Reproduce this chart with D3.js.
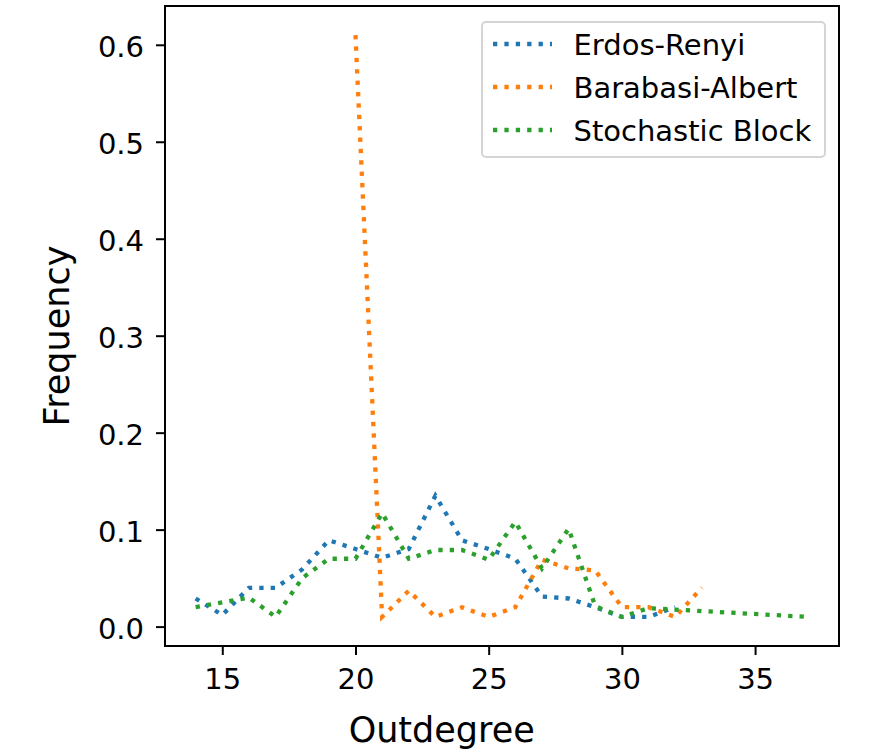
<!DOCTYPE html>
<html>
<head>
<meta charset="utf-8">
<script src="https://cdn.jsdelivr.net/npm/d3@7"></script>
<style>
html,body{margin:0;padding:0;background:#fff;}
svg{display:block;font-family:"DejaVu Sans",sans-serif;}
</style>
</head>
<body>
<svg id="chart" width="873" height="753"></svg>
<script>
// ---- data ----
const seriesNames = ["Erdos-Renyi", "Barabasi-Albert", "Stochastic Block"];
const seriesColors = ["#1f77b4", "#ff7f0e", "#2ca02c"];

const erX = [14,15,16,17,18,19,20,21,22,23,24,25,26,27,28,29,30,31,32];
const erY = [0.029,0.012,0.040,0.040,0.059,0.089,0.080,0.071,0.080,0.135,0.089,0.080,0.070,0.031,0.029,0.020,0.010,0.010,0.020];

const baX = [20,21,22,23,24,25,26,27,28,29,30,31,32,33];
const baY = [0.610,0.010,0.037,0.010,0.020,0.010,0.020,0.069,0.060,0.058,0.020,0.020,0.010,0.040];

const sbX = [14,15,16,17,18,19,20,21,22,23,24,25,26,27,28,29,30,31,37];
const sbY = [0.020,0.025,0.030,0.010,0.050,0.070,0.070,0.117,0.070,0.079,0.079,0.069,0.108,0.060,0.101,0.021,0.010,0.019,0.010];

const xTicks = [15,20,25,30,35];
const yTicks = [0.0,0.1,0.2,0.3,0.4,0.5,0.6];
const xLabel = "Outdegree";
const yLabel = "Frequency";

// ---- layout ----
const plot = {left:165, right:839, top:6, bottom:646};
const svg = d3.select("#chart");

const series = [
  {name: seriesNames[0], color: seriesColors[0], pts: erX.map((x,i)=>[x, erY[i]])},
  {name: seriesNames[1], color: seriesColors[1], pts: baX.map((x,i)=>[x, baY[i]])},
  {name: seriesNames[2], color: seriesColors[2], pts: sbX.map((x,i)=>[x, sbY[i]])}
];

const allX = [].concat(erX, baX, sbX);
const allY = [].concat(erY, baY, sbY);
const [x0, x1] = d3.extent(allX);
const [y0, y1] = d3.extent(allY);
const mx = (x1 - x0) * 0.05, my = (y1 - y0) * 0.05;

const x = d3.scaleLinear().domain([x0 - mx, x1 + mx]).range([plot.left, plot.right]);
const y = d3.scaleLinear().domain([y0 - my, y1 + my]).range([plot.bottom, plot.top]);

const lw = 4.3;
const dash = `${lw},${(lw*1.65).toFixed(2)}`;
const line = d3.line().x(d => x(d[0])).y(d => y(d[1]));

const gLines = svg.append("g");
series.forEach(s => {
  gLines.append("path")
    .attr("d", line(s.pts))
    .attr("fill", "none")
    .attr("stroke", s.color)
    .attr("stroke-width", lw)
    .attr("stroke-dasharray", dash)
    .attr("stroke-linecap", "butt");
});

// axes
const tickFont = "29px";
const xAxis = d3.axisBottom(x).tickValues(xTicks).tickFormat(d3.format("d")).tickSize(9).tickPadding(13);
const yAxis = d3.axisLeft(y).tickValues(yTicks).tickFormat(d3.format(".1f")).tickSize(9).tickPadding(12);

const gx = svg.append("g").attr("transform", `translate(0,${plot.bottom})`).call(xAxis);
const gy = svg.append("g").attr("transform", `translate(${plot.left},0)`).call(yAxis);
[gx, gy].forEach(g => {
  g.select(".domain").remove();
  g.selectAll(".tick line").attr("stroke", "#000").attr("stroke-width", 2);
  g.selectAll(".tick text").attr("fill", "#000").style("font-size", tickFont).style("font-family", "DejaVu Sans");
});
gy.selectAll(".tick text").attr("dy", "0.42em");

// frame
svg.append("rect")
  .attr("x", plot.left).attr("y", plot.top)
  .attr("width", plot.right - plot.left).attr("height", plot.bottom - plot.top)
  .attr("fill", "none").attr("stroke", "#000").attr("stroke-width", 2);

// labels
svg.append("text")
  .attr("x", 441.7).attr("y", 741.5)
  .attr("text-anchor", "middle")
  .style("font-size", "35px")
  .text(xLabel);

svg.append("text")
  .attr("transform", "translate(68.5,336) rotate(-90)")
  .attr("text-anchor", "middle")
  .style("font-size", "35px")
  .text(yLabel);

// legend
const lg = svg.append("g");
lg.append("rect")
  .attr("x", 482).attr("y", 22).attr("width", 343).attr("height", 135)
  .attr("rx", 4).attr("ry", 4)
  .attr("fill", "#fff").attr("fill-opacity", 0.8)
  .attr("stroke", "#d5d5d5").attr("stroke-width", 2);
const rowY = [44, 87, 130];
series.forEach((s, i) => {
  lg.append("line")
    .attr("x1", 493).attr("x2", 552)
    .attr("y1", rowY[i]).attr("y2", rowY[i])
    .attr("stroke", s.color).attr("stroke-width", lw)
    .attr("stroke-dasharray", dash);
  lg.append("text")
    .attr("x", 573.5).attr("y", rowY[i] + 11)
    .style("font-size", "29px")
    .text(s.name);
});
</script>
</body>
</html>
